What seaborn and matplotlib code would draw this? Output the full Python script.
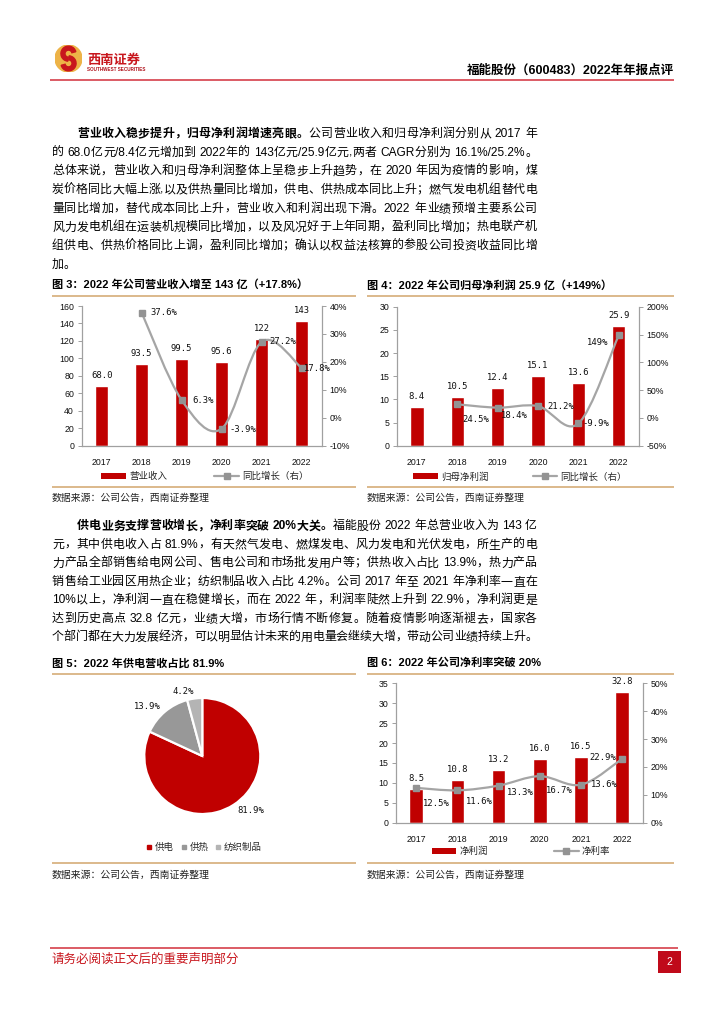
import matplotlib
matplotlib.use('Agg')
import matplotlib.pyplot as plt
import seaborn as sns
import numpy as np
import pandas as pd
from matplotlib.path import Path
from matplotlib.patches import PathPatch, Circle, Rectangle, Wedge, Patch
from matplotlib.lines import Line2D
from matplotlib.font_manager import FontProperties
from matplotlib.ticker import FuncFormatter

# ---------------- data ----------------
years = ['2017', '2018', '2019', '2020', '2021', '2022']
revenue = [68.0, 93.5, 99.5, 95.6, 122, 143]              # 营业收入（亿元）
revenue_yoy = [np.nan, 37.6, 6.3, -3.9, 27.2, 17.8]       # 同比增长（%）
parent_profit = [8.4, 10.5, 12.4, 15.1, 13.6, 25.9]       # 归母净利润（亿元）
parent_profit_yoy = [np.nan, 24.5, 18.4, 21.2, -9.9, 149]  # 同比增长（%）
net_profit = [8.5, 10.8, 13.2, 16.0, 16.5, 32.8]          # 净利润（亿元）
net_margin = [12.5, 11.6, 13.3, 16.7, 13.6, 22.9]         # 净利率（%）
pie_names = ['供电', '供热', '纺织制品']
pie_shares = [81.9, 13.9, 4.2]

rev_ticks = [0, 20, 40, 60, 80, 100, 120, 140, 160]
rev_yoy_ticks = [-10, 0, 10, 20, 30, 40]
pp_ticks = [0, 5, 10, 15, 20, 25, 30]
pp_yoy_ticks = [-50, 0, 50, 100, 150, 200]
np_ticks = [0, 5, 10, 15, 20, 25, 30, 35]
margin_ticks = [0, 10, 20, 30, 40, 50]

titles = ['图 3：2022 年公司营业收入增至 143 亿（+17.8%）',
          '图 4：2022 年公司归母净利润 25.9 亿（+149%）',
          '图 5：2022 年供电营收占比 81.9%',
          '图 6：2022 年公司净利率突破 20%']
source_text = '数据来源：公司公告，西南证券整理'
header_text = '福能股份（600483）2022年年报点评'
footer_text = '请务必阅读正文后的重要声明部分'
page_no = '2'

para1 = [
    [('营业收入稳步提升，归母净利润增速亮眼。', True), ('公司营业收入和归母净利润分别从 2017 年', False)],
    [('的 68.0亿元/8.4亿元增加到 2022年的 143亿元/25.9亿元,两者 CAGR分别为 16.1%/25.2%。', False)],
    [('总体来说，营业收入和归母净利润整体上呈稳步上升趋势，在 2020 年因为疫情的影响，煤', False)],
    [('炭价格同比大幅上涨,以及供热量同比增加，供电、供热成本同比上升；燃气发电机组替代电', False)],
    [('量同比增加，替代成本同比上升，营业收入和利润出现下滑。2022 年业绩预增主要系公司', False)],
    [('风力发电机组在运装机规模同比增加，以及风况好于上年同期，盈利同比增加；热电联产机', False)],
    [('组供电、供热价格同比上调，盈利同比增加；确认以权益法核算的参股公司投资收益同比增', False)],
    [('加。', False)],
]
para2 = [
    [('供电业务支撑营收增长，净利率突破 20%大关。', True), ('福能股份 2022 年总营业收入为 143 亿', False)],
    [('元，其中供电收入占 81.9%，有天然气发电、燃煤发电、风力发电和光伏发电，所生产的电', False)],
    [('力产品全部销售给电网公司、售电公司和市场批发用户等；供热收入占比 13.9%，热力产品', False)],
    [('销售给工业园区用热企业；纺织制品收入占比 4.2%。公司 2017 年至 2021 年净利率一直在', False)],
    [('10%以上，净利润一直在稳健增长，而在 2022 年，利润率陡然上升到 22.9%，净利润更是', False)],
    [('达到历史高点 32.8 亿元，业绩大增，市场行情不断修复。随着疫情影响逐渐褪去，国家各', False)],
    [('个部门都在大力发展经济，可以明显估计未来的用电量会继续大增，带动公司业绩持续上升。', False)],
]

# ---------------- style ----------------
RED = '#C00000'
LINE_GRAY = '#A5A5A5'
MARK_GRAY = '#939393'
PIE_COLORS = ['#C00000', '#989898', '#B4B4B4']
SPINE = '#A0A0A0'
GOLD = '#D9B382'
HEAD_RED = '#D6404A'
TXT = '#111111'
BODY_FONT = ['Liberation Sans', 'Noto Sans CJK SC', 'DejaVu Sans']
LABEL_FONT = ['DejaVu Sans Mono', 'DejaVu Sans']
TICK_FS = 6.3
LABEL_FS = 6.4
LEG_FS = 6.8

sns.set_theme(style='white')
plt.rcParams['font.family'] = BODY_FONT
plt.rcParams['axes.unicode_minus'] = False

W, H = 724, 1024
fig = plt.figure(figsize=(W / 100, H / 100), dpi=100, facecolor='white')
renderer = fig.canvas.get_renderer()


def fx(x):
    return x / W


def fy(y):
    return 1 - y / H


def rect(x0, y0, x1, y1):
    return [x0 / W, 1 - y1 / H, (x1 - x0) / W, (y1 - y0) / H]


def hline(x0, x1, y, color, lw):
    fig.add_artist(Line2D([fx(x0), fx(x1)], [fy(y), fy(y)], transform=fig.transFigure,
                          color=color, lw=lw, solid_capstyle='butt'))


# ---------------- justified body text ----------------
_adv_cache = {}


def weight_of(bold):
    return 'bold' if bold else 'light'


def advance(tok, bold, fs):
    key = (tok, bold, fs)
    if key not in _adv_cache:
        prop = FontProperties(family=BODY_FONT, size=fs, weight=weight_of(bold))
        w1 = renderer.get_text_width_height_descent('国' + tok + '国', prop, ismath=False)[0]
        w0 = renderer.get_text_width_height_descent('国国', prop, ismath=False)[0]
        _adv_cache[key] = w1 - w0
    return _adv_cache[key]


def tokenize(s):
    toks, buf = [], ''
    for ch in s:
        if ch == ' ':
            if buf:
                toks.append(buf)
                buf = ''
            toks.append(' ')
        elif ord(ch) < 128:
            buf += ch
        else:
            if buf:
                toks.append(buf)
                buf = ''
            toks.append(ch)
    if buf:
        toks.append(buf)
    return toks


def draw_line(segments, x0, x1, yc, fs, justify=True):
    toks = []
    for text, bold in segments:
        for t in tokenize(text):
            toks.append((t, bold))
    widths = [advance(t, b, fs) for t, b in toks]
    n = len(toks)
    gap = (x1 - x0 - sum(widths)) / (n - 1) if (justify and n > 1) else 0.0
    x = x0
    base = yc + 4.4
    for (t, b), w in zip(toks, widths):
        if t != ' ':
            fig.text(fx(x), fy(base), t, fontsize=fs, fontweight=weight_of(b),
                     family=BODY_FONT, ha='left', va='baseline', color='#000000')
        x += w + gap


BODY_FS = 8.6


def draw_para(lines, y0, step):
    for i, seg in enumerate(lines):
        left = 77 if i == 0 else 52
        last = (i == len(lines) - 1) and len(lines) == 8
        draw_line(seg, left, 537, y0 + i * step, BODY_FS, justify=not last)


draw_para(para1, 132.5, 18.7)
draw_para(para2, 525.0, 18.5)

# ---------------- header / footer ----------------
axl = fig.add_axes(rect(55, 45, 82, 72))
axl.set_xlim(-1, 1)
axl.set_ylim(-1, 1)
axl.set_aspect('equal')
axl.axis('off')
axl.add_patch(Circle((0, 0), 1, color='#EDB347'))
axl.add_patch(Wedge((0.0, 0.36), 0.56, 15, 265, width=0.3, color='#C8161D'))
axl.add_patch(Wedge((0.0, -0.36), 0.56, 195, 85, width=0.3, color='#C8161D'))
fig.text(fx(87), fy(60), '西南证券', fontsize=9.5, fontweight='bold', color='#C8161D',
         family=['Noto Sans CJK SC'], ha='left', va='center')
fig.text(fx(87), fy(69.5), 'SOUTHWEST SECURITIES', fontsize=3.3, fontweight='bold',
         color='#B0121B', ha='left', va='center')
fig.text(fx(674), fy(71), header_text, fontsize=9, fontweight='bold', color='#000000',
         ha='right', va='center')
hline(50, 674, 80, HEAD_RED, 1.2)

hline(50, 678, 947.5, HEAD_RED, 1.2)
fig.text(fx(52), fy(959), footer_text, fontsize=9, color='#C8161D',
         family=['Noto Sans CJK SC'], ha='left', va='center')
fig.add_artist(Rectangle((fx(658), fy(973)), (681 - 658) / W, (973 - 951) / H,
                         transform=fig.transFigure, facecolor='#C00A1A', edgecolor='none'))
fig.text(fx(669.5), fy(962), page_no, fontsize=7.5, color='white', ha='center', va='center')


# ---------------- chart helpers ----------------
def fmt_val(v):
    return f'{v:.0f}' if v >= 100 else f'{v:.1f}'


def fmt_pct(v):
    return f'{v:.0f}%' if abs(v) >= 100 else f'{v:.1f}%'


def smooth_path(xs, ys):
    pts = np.column_stack([xs, ys])
    n = len(pts)
    verts = [pts[0]]
    codes = [Path.MOVETO]
    for i in range(n - 1):
        p0 = pts[max(i - 1, 0)]
        p1 = pts[i]
        p2 = pts[i + 1]
        p3 = pts[min(i + 2, n - 1)]
        verts += [p1 + (p2 - p0) / 6.0, p2 - (p3 - p1) / 6.0, p2]
        codes += [Path.CURVE4] * 3
    return Path(verts, codes)


def chart_frame(x0, x1, ytop, ybot, title, ysrc, ytitle):
    fig.text(fx(x0), fy(ytitle), title, fontsize=8, fontweight='bold', color='#000000',
             ha='left', va='center')
    hline(x0, x1, ytop, GOLD, 1.3)
    hline(x0, x1, ybot, GOLD, 1.3)
    fig.text(fx(x0), fy(ysrc), source_text, fontsize=7.1, color='#222222', style='italic',
             family=['Noto Sans CJK SC'], ha='left', va='center')


def combo_chart(box, bars, bar_name, line, line_name, yticks, y2ticks, offsets,
                legend_xy, colspace):
    ax = fig.add_axes(rect(*box))
    df = pd.DataFrame({'year': years, 'value': bars})
    sns.barplot(data=df, x='year', y='value', color=RED, width=0.33, saturation=1,
                errorbar=None, ax=ax)
    ax.set_xlim(-0.5, len(years) - 0.5)
    ax.set_ylim(yticks[0], yticks[-1])
    ax.set_yticks(yticks)
    ax.set_xlabel('')
    ax.set_ylabel('')
    for s in ['top', 'right']:
        ax.spines[s].set_visible(False)
    for s in ['left', 'bottom']:
        ax.spines[s].set_color(SPINE)
        ax.spines[s].set_linewidth(0.9)
    ax.tick_params(axis='y', left=True, length=3, width=0.7, color=SPINE,
                   labelsize=TICK_FS, pad=2.5, labelcolor=TXT)
    ax.tick_params(axis='x', bottom=False, labelsize=TICK_FS, pad=3.2, labelcolor=TXT)
    for i, v in enumerate(bars):
        ax.annotate(fmt_val(v), (i, v), xytext=(0, 7.5), textcoords='offset points',
                    ha='center', va='center', fontsize=LABEL_FS, family=LABEL_FONT, color=TXT)

    ax2 = ax.twinx()
    ax2.set_ylim(y2ticks[0], y2ticks[-1])
    ax2.set_yticks(y2ticks)
    ax2.yaxis.set_major_formatter(FuncFormatter(lambda v, p: f'{v:.0f}%'))
    for s in ['top', 'left', 'bottom']:
        ax2.spines[s].set_visible(False)
    ax2.spines['right'].set_color(SPINE)
    ax2.spines['right'].set_linewidth(0.9)
    ax2.tick_params(axis='y', right=True, left=False, length=3, width=0.7, color=SPINE,
                    labelsize=TICK_FS, pad=2.5, labelcolor=TXT)
    idx = [i for i, v in enumerate(line) if not np.isnan(v)]
    xs = np.array(idx, dtype=float)
    ys = np.array([line[i] for i in idx], dtype=float)
    ax2.add_patch(PathPatch(smooth_path(xs, ys), fill=False, edgecolor=LINE_GRAY, lw=1.6,
                            capstyle='round', joinstyle='round', zorder=3))
    ax2.plot(xs, ys, linestyle='none', marker='s', markersize=4.6, color=MARK_GRAY, zorder=4)
    for i, (dx, dy) in zip(idx, offsets):
        ax2.annotate(fmt_pct(line[i]), (i, line[i]), xytext=(dx * 0.72, -dy * 0.72),
                     textcoords='offset points', ha='center', va='center',
                     fontsize=LABEL_FS, family=LABEL_FONT, color=TXT, zorder=5)
    ax.set_xlim(-0.5, len(years) - 0.5)
    ax2.set_xlim(-0.5, len(years) - 0.5)

    handles = [Patch(facecolor=RED, edgecolor='none'),
               Line2D([], [], color=LINE_GRAY, lw=1.6, marker='s', markersize=4.6,
                      markerfacecolor=MARK_GRAY, markeredgecolor=MARK_GRAY)]
    fig.legend(handles, [bar_name, line_name], loc='center',
               bbox_to_anchor=(fx(legend_xy[0]), fy(legend_xy[1])), ncol=2, frameon=False,
               fontsize=LEG_FS, handlelength=2.6, handleheight=0.55, handletextpad=0.35,
               columnspacing=colspace, borderpad=0, borderaxespad=0)
    return ax, ax2


# ---------------- chart 3 ----------------
chart_frame(52, 356, 296, 486.7, titles[0], 497.7, 285)
combo_chart((81.7, 306, 321.7, 445.7), revenue, '营业收入', revenue_yoy, '同比增长（右）',
            rev_ticks, rev_yoy_ticks,
            [(22, 0), (21, 0), (21, 1), (21, 0), (16, 0)], (205, 476.7), 5.0)

# ---------------- chart 4 ----------------
chart_frame(367, 674, 296, 486.7, titles[1], 497.7, 285)
combo_chart((396.7, 306.7, 639, 445.7), parent_profit, '归母净利润', parent_profit_yoy,
            '同比增长（右）', pp_ticks, pp_yoy_ticks,
            [(19, 15), (17, 8), (23, 0), (17, 0), (-21, 7)], (520, 476.7), 4.7)

# ---------------- chart 5 (pie) ----------------
chart_frame(52, 356, 673.5, 863.3, titles[2], 875, 663)
axp = fig.add_axes(rect(144.3, 698, 260.3, 814))
axp.pie(pie_shares, colors=PIE_COLORS, startangle=90, counterclock=False,
        labels=[f'{v:.1f}%' for v in pie_shares], labeldistance=1.12,
        wedgeprops=dict(edgecolor='white', linewidth=1.6),
        textprops=dict(fontsize=LABEL_FS, family=LABEL_FONT, color=TXT))
axp.set_xlim(-1, 1)
axp.set_ylim(-1, 1)
axp.set_aspect('equal')
axp.axis('off')
pie_handles = [Line2D([], [], marker='s', linestyle='none', markersize=3.2, color=c)
               for c in PIE_COLORS]
fig.legend(pie_handles, pie_names, loc='center', bbox_to_anchor=(fx(204), fy(847.7)),
           ncol=3, frameon=False, fontsize=LEG_FS, handlelength=0.7, handletextpad=0.25,
           columnspacing=0.7, borderpad=0, borderaxespad=0)

# ---------------- chart 6 ----------------
chart_frame(367, 674, 674, 863.3, titles[3], 875, 663)
combo_chart((395.7, 683.3, 642.7, 822.7), net_profit, '净利润', net_margin, '净利率',
            np_ticks, margin_ticks,
            [(20, 16), (22, 11), (22, 7), (20, 14), (23, 0), (-19, -1)], (521, 851.7), 7.0)

fig.savefig('out.png', dpi=100, facecolor='white')
